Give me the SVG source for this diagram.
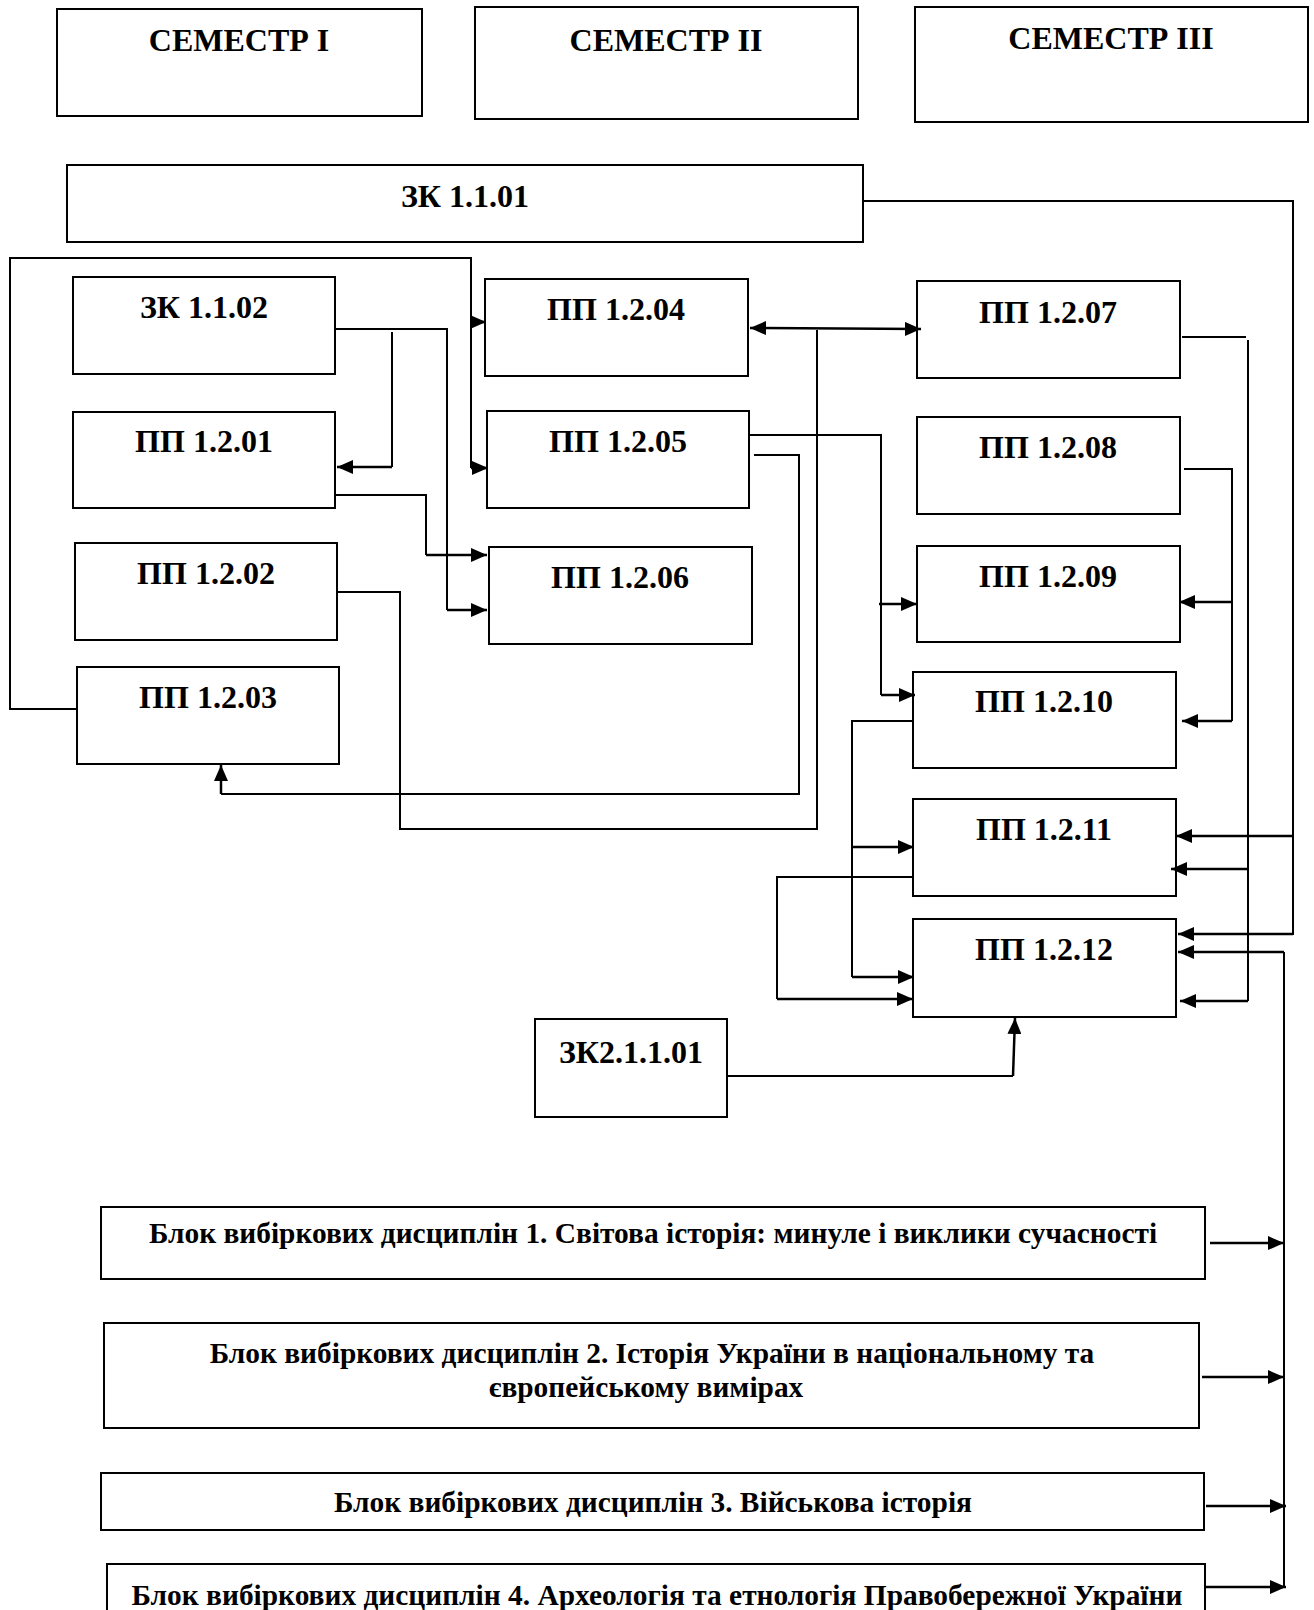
<svg xmlns="http://www.w3.org/2000/svg" width="1314" height="1610" viewBox="0 0 1314 1610">
<style>
  .box { fill: #ffffff; stroke: #000000; stroke-width: 2; }
  .lbl { font-family: "Liberation Serif", "Times New Roman", serif; font-weight: bold; font-size: 32px; fill: #000000; text-anchor: middle; }
  .blk { font-family: "Liberation Serif", "Times New Roman", serif; font-weight: bold; font-size: 29.4px; fill: #000000; text-anchor: middle; }
  .c { fill: none; stroke: #000000; stroke-width: 2; }
  .a { fill: none; stroke: #000000; stroke-width: 2.5; marker-end: url(#ah); }
</style>
<defs>
  <marker id="ah" viewBox="0 0 16 14" refX="16" refY="7" markerWidth="16" markerHeight="14" markerUnits="userSpaceOnUse" orient="auto-start-reverse">
    <path d="M0,0 L16,7 L0,14 Z" fill="#000000"/>
  </marker>
</defs>
<rect width="1314" height="1610" fill="#ffffff"/>

<g id="semester1"><rect class="box" x="57" y="9" width="365" height="107"/><text class="lbl" x="239" y="51">СЕМЕСТР І</text></g>
<g id="semester2"><rect class="box" x="475" y="7" width="383" height="112"/><text class="lbl" x="666" y="51">СЕМЕСТР ІІ</text></g>
<g id="semester3"><rect class="box" x="915" y="7" width="393" height="115"/><text class="lbl" x="1111" y="49">СЕМЕСТР ІІІ</text></g>

<g id="zk1101"><rect class="box" x="67" y="165" width="796" height="77"/><text class="lbl" x="465" y="207">ЗК 1.1.01</text></g>
<g id="zk1102"><rect class="box" x="73" y="277" width="262" height="97"/><text class="lbl" x="204" y="318">ЗК 1.1.02</text></g>
<g id="pp1201"><rect class="box" x="73" y="412" width="262" height="96"/><text class="lbl" x="204" y="452">ПП 1.2.01</text></g>
<g id="pp1202"><rect class="box" x="75" y="543" width="262" height="97"/><text class="lbl" x="206" y="584">ПП 1.2.02</text></g>
<g id="pp1203"><rect class="box" x="77" y="667" width="262" height="97"/><text class="lbl" x="208" y="708">ПП 1.2.03</text></g>
<g id="pp1204"><rect class="box" x="485" y="279" width="263" height="97"/><text class="lbl" x="616" y="320">ПП 1.2.04</text></g>
<g id="pp1205"><rect class="box" x="487" y="411" width="262" height="97"/><text class="lbl" x="618" y="452">ПП 1.2.05</text></g>
<g id="pp1206"><rect class="box" x="489" y="547" width="263" height="97"/><text class="lbl" x="620" y="588">ПП 1.2.06</text></g>
<g id="pp1207"><rect class="box" x="917" y="281" width="263" height="97"/><text class="lbl" x="1048" y="323">ПП 1.2.07</text></g>
<g id="pp1208"><rect class="box" x="917" y="417" width="263" height="97"/><text class="lbl" x="1048" y="458">ПП 1.2.08</text></g>
<g id="pp1209"><rect class="box" x="917" y="546" width="263" height="96"/><text class="lbl" x="1048" y="587">ПП 1.2.09</text></g>
<g id="pp1210"><rect class="box" x="913" y="672" width="263" height="96"/><text class="lbl" x="1044" y="712">ПП 1.2.10</text></g>
<g id="pp1211"><rect class="box" x="913" y="799" width="263" height="97"/><text class="lbl" x="1044" y="840">ПП 1.2.11</text></g>
<g id="pp1212"><rect class="box" x="913" y="919" width="263" height="98"/><text class="lbl" x="1044" y="960">ПП 1.2.12</text></g>
<g id="zk21101"><rect class="box" x="535" y="1019" width="192" height="98"/><text class="lbl" x="631" y="1063">ЗК2.1.1.01</text></g>

<g id="block1"><rect class="box" x="101" y="1207" width="1104" height="72"/><text class="blk" x="653" y="1243">Блок вибіркових дисциплін 1. Світова історія: минуле і виклики сучасності</text></g>
<g id="block2"><rect class="box" x="104" y="1323" width="1095" height="105"/><text class="blk" x="652" y="1363">Блок вибіркових дисциплін 2. Історія України в національному та</text><text class="blk" x="646" y="1397">європейському вимірах</text></g>
<g id="block3"><rect class="box" x="101" y="1473" width="1103" height="57"/><text class="blk" x="653" y="1512">Блок вибіркових дисциплін 3. Військова історія</text></g>
<g id="block4"><rect class="box" x="107" y="1564" width="1098" height="60"/><text class="blk" x="657" y="1605">Блок вибіркових дисциплін 4. Археологія та етнологія Правобережної України</text></g>

<g id="connectors">
  <path class="c" d="M863,201 H1293 V935"/>
  <path class="a" d="M1293,836 H1176"/>
  <path class="a" d="M1293,934 H1178"/>
  <path class="c" d="M77,709 H10 V258 H471 V468"/>
  <path class="a" d="M471,322 H486"/>
  <path class="a" d="M471,468 H488"/>
  <path class="c" d="M335,329 H447 V610"/>
  <path class="a" d="M447,610 H487"/>
  <path class="c" d="M392,332 V467"/>
  <path class="a" d="M392,467 H337"/>
  <path class="c" d="M335,495 H426 V555"/>
  <path class="a" d="M426,555 H487"/>
  <path class="c" d="M337,592 H400 V829 H817 V330"/>
  <path class="a" style="marker-start:url(#ah)" d="M750,328 L921,329"/>
  <path class="c" d="M754,455 H799 V794 H221"/>
  <path class="a" d="M221,794 V765"/>
  <path class="c" d="M749,435 H881 V695"/>
  <path class="a" d="M881,695 H915"/>
  <path class="a" d="M879,604 H917"/>
  <path class="c" d="M1182,337 H1246 M1248,340 V1001"/>
  <path class="a" d="M1248,869 H1171"/>
  <path class="a" d="M1248,1001 H1180"/>
  <path class="c" d="M1184,469 H1232 V721"/>
  <path class="a" d="M1232,721 H1182"/>
  <path class="a" d="M1232,602 H1179"/>
  <path class="c" d="M913,721 H852 V977"/>
  <path class="a" d="M852,977 H914"/>
  <path class="a" d="M852,847 H914"/>
  <path class="c" d="M913,877 H777 V999"/>
  <path class="a" d="M777,999 H913"/>
  <path class="c" d="M727,1076 H1013"/>
  <path class="a" d="M1013,1076 L1015,1018"/>
  <path class="c" d="M1284,952 V1587"/>
  <path class="a" d="M1284,952 H1178"/>
  <path class="a" d="M1210,1243 H1284"/>
  <path class="a" d="M1202,1377 H1284"/>
  <path class="a" d="M1206,1506 H1286"/>
  <path class="a" d="M1206,1587 H1286"/>
</g>
</svg>
